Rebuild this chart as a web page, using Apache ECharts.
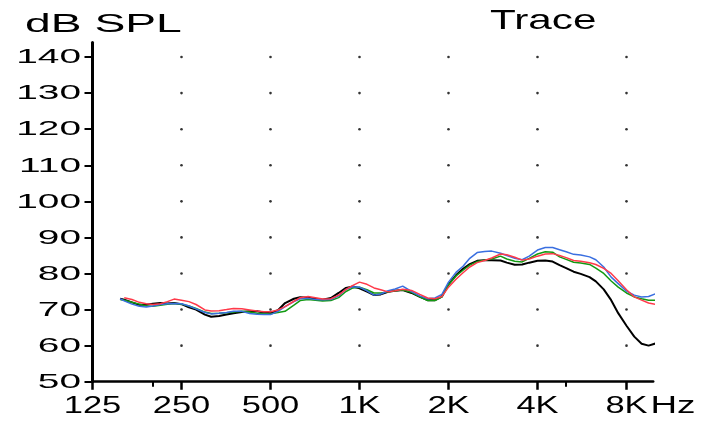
<!DOCTYPE html>
<html><head><meta charset="utf-8">
<script src="https://cdn.jsdelivr.net/npm/echarts@6/dist/echarts.min.js"></script>
<style>html,body{margin:0;padding:0;background:#fff}#c{width:702px;height:421px}</style>
</head><body><div id="c"></div>
<script>
// Frequencies (Hz) of the measured points
const freqs = [155,160,170,180,190,200,212,224,236,250,265,280,300,315,335,355,375,400,425,450,475,500,530,560,600,630,670,710,750,800,850,900,950,1000,1060,1120,1180,1250,1320,1400,1500,1600,1700,1800,1900,2000,2120,2240,2360,2500,2650,2800,3000,3150,3350,3550,3750,4000,4250,4500,4750,5000,5300,5600,6000,6300,6700,7100,7500,8000,8500,9000,9500,10200,11000];
// dB SPL values per trace
const blackTrace = [73.0,72.7,72.0,71.3,71.3,71.6,71.8,71.7,71.8,71.5,70.6,70.0,68.6,68.0,68.2,68.6,69.0,69.3,69.5,69.5,69.2,69.0,69.8,71.8,73.0,73.4,73.3,72.9,72.7,73.2,74.6,76.0,76.4,75.9,75.0,74.0,74.2,74.9,75.2,75.4,74.6,73.5,72.6,72.6,73.6,77.0,79.5,81.3,82.6,83.5,83.7,83.7,83.6,83.0,82.4,82.5,83.0,83.5,83.6,83.3,82.3,81.5,80.5,79.9,79.0,77.8,75.6,72.6,69.0,65.5,62.5,60.5,60.0,60.8,null];
const greenTrace = [72.8,72.6,72.0,71.5,71.0,70.9,71.2,71.5,71.7,71.5,71.0,70.3,69.3,68.9,69.0,69.1,69.3,69.5,69.3,69.0,68.9,68.8,69.2,69.5,71.2,72.5,72.8,72.6,72.4,72.5,73.3,75.0,76.0,76.2,75.5,74.6,74.6,74.9,75.2,75.4,74.8,73.5,72.5,72.5,73.5,76.9,79.3,80.9,82.3,83.3,83.7,84.0,84.8,84.0,83.4,83.2,84.2,85.4,86.0,85.9,84.6,83.9,83.1,82.9,82.5,81.5,80.0,77.9,76.2,74.6,73.5,73.0,72.6,72.6,null];
const blueTrace = [73.0,72.4,71.5,70.9,70.7,71.0,71.4,71.6,71.7,71.6,71.0,70.2,69.2,68.8,69.0,69.2,69.5,69.5,68.9,68.7,68.6,68.6,69.5,70.8,72.2,73.0,73.1,72.8,72.7,72.8,73.8,75.6,76.3,76.2,75.2,74.0,74.3,75.2,75.7,76.5,75.0,73.8,73.0,73.2,74.2,77.6,80.3,82.0,84.2,85.8,86.1,86.2,85.6,85.0,84.2,83.8,84.8,86.5,87.2,87.2,86.6,86.0,85.3,85.1,84.6,83.8,81.8,79.0,77.2,75.1,74.0,73.5,73.6,74.6,null];
const redTrace = [null,73.3,72.8,72.0,71.6,71.4,71.6,72.2,72.9,72.6,72.2,71.4,69.9,69.6,69.7,70.0,70.3,70.2,69.9,69.6,69.4,69.4,69.9,70.8,72.3,73.3,73.6,73.3,72.9,73.0,74.0,75.6,76.7,77.6,77.0,76.0,75.5,74.9,75.2,75.6,75.3,74.2,73.2,73.0,73.6,76.2,78.4,80.2,81.8,83.0,83.6,84.3,85.4,85.2,84.5,83.7,84.0,84.8,85.4,85.5,85.0,84.4,83.6,83.4,83.0,82.5,81.4,80.0,78.0,75.5,73.5,72.6,71.8,71.3,71.2];
// Axis ticks
const xTickFreqs = [125,250,500,1000,2000,4000,8000];
const xTickLabels = ['125','250','500','1K','2K','4K','8K'];
const xMinorTickFreqs = [200,5000];
const yTicks = [50,60,70,80,90,100,110,120,130,140];
const yTitle = 'dB SPL', chartTitle = 'Trace', xUnit = 'Hz';

const oct = f => Math.log2(f / 125);
const pairs = vals => freqs.map((f, i) => [oct(f), vals[i]]);
const dots = [];
xTickFreqs.slice(1).forEach(f => yTicks.slice(1).forEach(v => dots.push([oct(f), v])));

const chart = echarts.init(document.getElementById('c'), null, {renderer: 'canvas'});
const mkLine = (name, data, color, w) => ({
  name, type: 'line', data: pairs(data), symbol: 'none', clip: false,
  lineStyle: {color, width: w}, itemStyle: {color}, z: 3, animation: false
});
chart.setOption({
  animation: false,
  backgroundColor: '#fff',
  grid: {left: 92.5, right: 48.8, top: 42.6, bottom: 39.3},
  xAxis: [{
    type: 'value', min: 0, max: 6.3, interval: 1,
    axisLine: {show: true, lineStyle: {color: '#000', width: 2.5}},
    axisTick: {show: true, length: 8, inside: false, customValues: xTickFreqs.map(oct), lineStyle: {color: '#000', width: 2.5}},
    axisLabel: {show: false}, splitLine: {show: false}
  }, {
    type: 'value', min: 0, max: 6.3, interval: 1, position: 'bottom',
    axisLine: {show: false},
    axisTick: {show: true, length: 5, inside: false, customValues: xMinorTickFreqs.map(oct), lineStyle: {color: '#000', width: 2}},
    axisLabel: {show: false}, splitLine: {show: false}
  }],
  yAxis: {
    type: 'value', min: 50, max: 144, interval: 10,
    axisLine: {show: true, onZero: false, lineStyle: {color: '#000', width: 3}},
    axisTick: {show: true, length: 8, customValues: yTicks, lineStyle: {color: '#000', width: 2}},
    axisLabel: {show: false}, splitLine: {show: false}
  },
  series: [
    {type: 'scatter', data: dots, symbol: 'circle', symbolSize: 2.6, itemStyle: {color: '#000'}, silent: true, z: 1},
    mkLine('black', blackTrace, '#000000', 2),
    mkLine('green', greenTrace, '#129a12', 1.5),
    mkLine('blue', blueTrace, '#3a6fe0', 1.5),
    mkLine('red', redTrace, '#ff3a4a', 1.5)
  ]
});

const font = '"Liberation Sans", Arial, Helvetica, sans-serif';
function txt(x, y, s, size, sx, align) {
  return {type: 'text', x, y, scaleX: sx, scaleY: 1, silent: true, z: 10,
    style: {text: s, x: 0, y: 0, fontSize: size, fontFamily: font, fill: '#000',
      align, verticalAlign: 'middle', textAlign: align, textVerticalAlign: 'middle'}};
}
const g = [];
yTicks.forEach(v => {
  const p = chart.convertToPixel({gridIndex: 0}, [0, v]);
  g.push(txt(81, p[1] + 0.5, String(v), 21, 1.85, 'right'));
});
xTickFreqs.forEach((f, i) => {
  const p = chart.convertToPixel({gridIndex: 0}, [oct(f), 50]);
  g.push(txt(p[0], 407, xTickLabels[i], 23, 1.5, 'center'));
});
const p8 = chart.convertToPixel({gridIndex: 0}, [oct(8000), 50]);
g.push(txt(p8[0] + 24, 407, xUnit, 23, 1.6, 'left'));
g.push(txt(25, 25.5, yTitle, 25, 1.85, 'left'));
g.push(txt(490, 21.5, chartTitle, 28, 1.51, 'left'));
chart.setOption({graphic: g});
</script></body></html>
